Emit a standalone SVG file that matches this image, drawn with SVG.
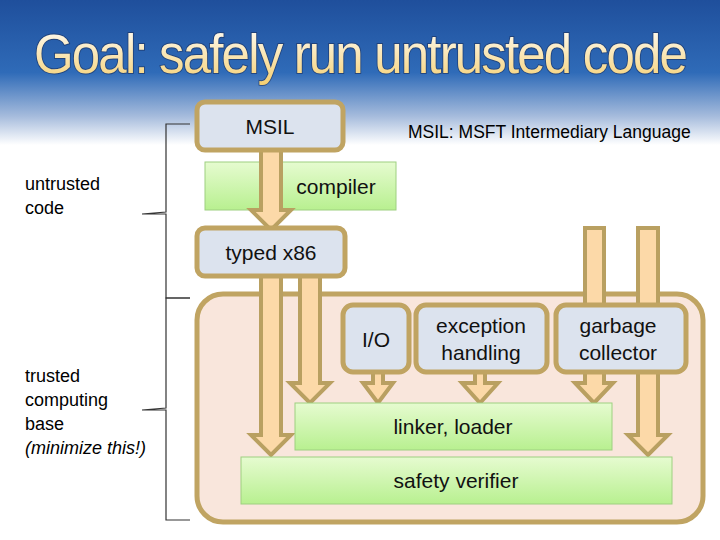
<svg xmlns="http://www.w3.org/2000/svg" width="720" height="540" viewBox="0 0 720 540">
<defs>
<linearGradient id="bg" x1="0" y1="0" x2="0" y2="1">
<stop offset="0" stop-color="#1f4f9c"/><stop offset="0.5" stop-color="#2f6bb8"/><stop offset="0.8" stop-color="#a5bbdc"/><stop offset="1" stop-color="#ffffff"/>
</linearGradient>
<linearGradient id="tg" x1="0" y1="0" x2="0" y2="1">
<stop offset="0" stop-color="#ffffff"/><stop offset="1" stop-color="#f5cf70"/>
</linearGradient>
<linearGradient id="gr" x1="0" y1="0" x2="0" y2="1">
<stop offset="0" stop-color="#e6fbd0"/><stop offset="1" stop-color="#b8f090"/>
</linearGradient>
<style>
.bx{fill:#dce3ee;stroke:#c0a462;stroke-width:5}
.gb{fill:url(#gr);stroke:#9ed080;stroke-width:1}
.ar{fill:#fcd9a8;stroke:#b9a061;stroke-width:4;stroke-linejoin:miter}
.t{font-family:"Liberation Sans",Arial,sans-serif;font-size:21px;fill:#111}
.l{font-family:"Liberation Sans",Arial,sans-serif;font-size:18px;fill:#000}
.br{fill:none;stroke:#333;stroke-width:1.2}
</style>
</defs>
<rect width="720" height="540" fill="#fff"/>
<rect width="720" height="145" fill="url(#bg)"/>
<text x="360" y="73" text-anchor="middle" font-family="'Liberation Sans',Arial,sans-serif" font-size="56" fill="url(#tg)" stroke="#1a2f5a" stroke-opacity="0.6" stroke-width="2" paint-order="stroke" textLength="652" lengthAdjust="spacingAndGlyphs" letter-spacing="-2">Goal: safely run untrusted code</text>

<g id="tcb"><rect x="197" y="294" width="506" height="228" rx="26" fill="#f9e6dc" stroke="#c0a462" stroke-width="5"/></g>

<g id="compiler"><rect class="gb" x="205" y="162" width="191" height="48"/><text class="t" x="336" y="194" text-anchor="middle">compiler</text></g>

<g id="connectors">
<path class="ar" d="M261,150 V210 H251 L271,230 L291,210 H281 V150 Z"/>
<path class="ar" d="M261,276 V435 H251 L271,455 L291,435 H281 V276 Z"/>
<path class="ar" d="M300,276 V383 H290 L310,403 L330,383 H320 V276 Z"/>
<path class="ar" d="M373,372 V383 H363 L378,403 L393,383 H383 V372 Z"/>
<path class="ar" d="M475,372 V383 H462 L480,403 L498,383 H485 V372 Z"/>
<path class="ar" d="M585,228 V383 H575 L594,403 L613,383 H604 V228 Z"/>
<path class="ar" d="M638,228 V435 H628 L648,455 L668,435 H658 V228 Z"/>
</g>

<g id="msil"><rect class="bx" x="197" y="102" width="146" height="48" rx="8"/><text class="t" x="270" y="134" text-anchor="middle">MSIL</text></g>
<g id="typed"><rect class="bx" x="197" y="228" width="148" height="48" rx="8"/><text class="t" x="271" y="260" text-anchor="middle">typed x86</text></g>
<g id="io"><rect class="bx" x="343" y="305" width="66" height="67" rx="10"/><text class="t" x="376" y="347" text-anchor="middle">I/O</text></g>
<g id="exc"><rect class="bx" x="416" y="305" width="131" height="67" rx="10"/><text class="t" x="481" y="333" text-anchor="middle">exception</text><text class="t" x="481" y="360" text-anchor="middle">handling</text></g>
<g id="gc"><rect class="bx" x="556" y="305" width="130" height="67" rx="10"/><text class="t" x="618" y="333" text-anchor="middle">garbage</text><text class="t" x="618" y="360" text-anchor="middle">collector</text></g>
<g id="linker"><rect class="gb" x="295" y="403" width="317" height="47"/><text class="t" x="453" y="434" text-anchor="middle">linker, loader</text></g>
<g id="verifier"><rect class="gb" x="241" y="457" width="431" height="47"/><text class="t" x="456" y="488" text-anchor="middle">safety verifier</text></g>

<text x="408" y="138" font-family="'Liberation Sans',Arial,sans-serif" font-size="17.5" fill="#000">MSIL: MSFT Intermediary Language</text>

<g id="braces">
<path class="br" d="M190,124 H166 V212 L142,214 H166 V298 H190"/>
<path class="br" d="M190,298 H166 V408 L142,410 H166 V520 H190"/>
</g>
<text class="l" x="25" y="190">untrusted</text>
<text class="l" x="25" y="214">code</text>
<text class="l" x="25" y="382">trusted</text>
<text class="l" x="25" y="406">computing</text>
<text class="l" x="25" y="430">base</text>
<text class="l" x="25" y="454" font-style="italic">(minimize this!)</text>
</svg>
